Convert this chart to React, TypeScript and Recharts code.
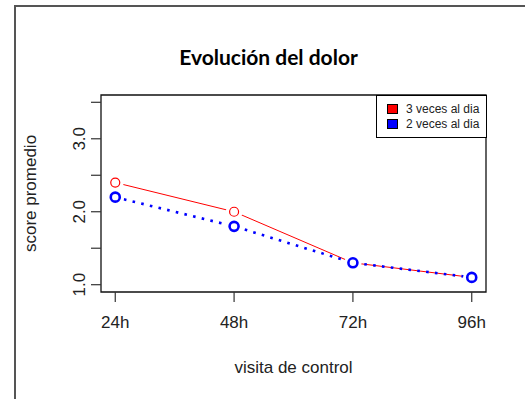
import { LineChart, Line, XAxis, YAxis, ReferenceArea } from "recharts";

// visits (x positions 1..4) and mean scores per schedule
const visits = ["24h", "48h", "72h", "96h"];
const tresVeces = [2.4, 2.0, 1.3, 1.1];
const dosVeces = [2.2, 1.8, 1.3, 1.1];
const yTicks = [1, 1.5, 2, 2.5, 3, 3.5];
const yLabeled = [1, 2, 3];

const data = visits.map((v, i) => ({ x: i + 1, visit: v, tres: tresVeces[i], dos: dosVeces[i] }));

const FONT = "'Liberation Sans', Arial, sans-serif";

function RedDot(props: any) {
  const { cx, cy } = props;
  return (
    <g>
      <circle cx={cx} cy={cy} r={8.5} fill="#fff" />
      <circle cx={cx} cy={cy} r={4.5} fill="none" stroke="#ff0000" strokeWidth={1.2} />
    </g>
  );
}

function BlueDot(props: any) {
  const { cx, cy } = props;
  return (
    <g>
      <circle cx={cx} cy={cy} r={8.5} fill="#fff" />
      <circle cx={cx} cy={cy} r={4.5} fill="none" stroke="#0000ff" strokeWidth={2.6} />
    </g>
  );
}

function YTick(props: any) {
  const { x, y, payload } = props;
  if (!yLabeled.includes(payload.value)) return null;
  return (
    <text
      x={x - 4}
      y={y}
      transform={`rotate(-90 ${x - 4} ${y})`}
      textAnchor="middle"
      fontFamily={FONT}
      fontSize={17}
      fill="#222"
    >
      {payload.value.toFixed(1)}
    </text>
  );
}

function LegendBox() {
  const items = [
    { label: "3 veces al dia", color: "#ff0000" },
    { label: "2 veces al dia", color: "#0000ff" },
  ];
  return (
    <div
      style={{
        position: "absolute",
        left: 376,
        top: 95,
        width: 111,
        height: 43,
        border: "1px solid #000",
        background: "#fff",
        boxSizing: "border-box",
        paddingTop: 5,
        fontFamily: FONT,
        fontSize: 12,
        color: "#222",
      }}
    >
      {items.map((it) => (
        <div key={it.label} style={{ display: "flex", alignItems: "center", height: 15, paddingLeft: 10 }}>
          <span
            style={{
              display: "inline-block",
              width: 9,
              height: 8,
              background: it.color,
              border: "1px solid #000",
              marginRight: 8,
            }}
          />
          {it.label}
        </div>
      ))}
    </div>
  );
}

export default function App() {
  return (
    <div style={{ position: "absolute", left: 0, top: 0, width: 525, height: 399, background: "#fff", overflow: "hidden" }}>
      <div
        style={{
          position: "absolute",
          left: 14,
          top: 5,
          width: 600,
          height: 500,
          borderLeft: "2px solid #555",
          borderTop: "2px solid #555",
        }}
      />
      <div
        style={{
          position: "absolute",
          left: 0,
          width: 525,
          top: 44,
          textAlign: "center",
          paddingLeft: 12,
          boxSizing: "border-box",
          fontFamily: "Lato, 'Open Sans', sans-serif",
          fontWeight: 700,
          fontSize: 21,
          color: "#000",
        }}
      >
        Evolución del dolor
      </div>
      <div style={{ position: "absolute", left: 0, top: 0 }}>
        <LineChart width={525} height={399} data={data} margin={{ top: 95, right: 39, bottom: 0, left: 40 }}>
          <XAxis
            dataKey="x"
            type="number"
            domain={[0.88, 4.12]}
            ticks={[1, 2, 3, 4]}
            tickFormatter={(v: number) => visits[v - 1]}
            axisLine={false}
            tickSize={10}
            tickLine={{ stroke: "#333", strokeWidth: 1.2 }}
            tick={{ fontFamily: FONT, fontSize: 17, fill: "#222", dy: 12 }}
            height={107}
            label={(p: any) => {
              const vb = p.viewBox;
              return (
                <text x={vb.x + vb.width / 2} y={373} textAnchor="middle" fontFamily={FONT} fontSize={17} fill="#222">
                  visita de control
                </text>
              );
            }}
            allowDataOverflow
          />
          <YAxis
            type="number"
            domain={[0.9, 3.6]}
            ticks={yTicks}
            axisLine={false}
            tickSize={10}
            tickLine={{ stroke: "#333", strokeWidth: 1.2 }}
            tick={<YTick />}
            width={61}
            interval={0}
            allowDataOverflow
            label={(p: any) => {
              const vb = p.viewBox;
              const cy = vb.y + vb.height / 2;
              return (
                <text x={36} y={cy} transform={`rotate(-90 36 ${cy})`} textAnchor="middle" fontFamily={FONT} fontSize={17} fill="#222">
                  score promedio
                </text>
              );
            }}
          />
          <ReferenceArea x1={0.88} x2={4.12} y1={0.9} y2={3.6} fill="none" stroke="#111" strokeWidth={1.3} ifOverflow="visible" />
          <Line
            dataKey="tres"
            stroke="#ff0000"
            strokeWidth={1}
            dot={<RedDot />}
            activeDot={false}
            isAnimationActive={false}
            type="linear"
          />
          <Line
            dataKey="dos"
            stroke="#0000ff"
            strokeWidth={2.6}
            strokeDasharray="2.6 6.3"
            dot={<BlueDot />}
            activeDot={false}
            isAnimationActive={false}
            type="linear"
          />
        </LineChart>
      </div>
      <LegendBox />
    </div>
  );
}
